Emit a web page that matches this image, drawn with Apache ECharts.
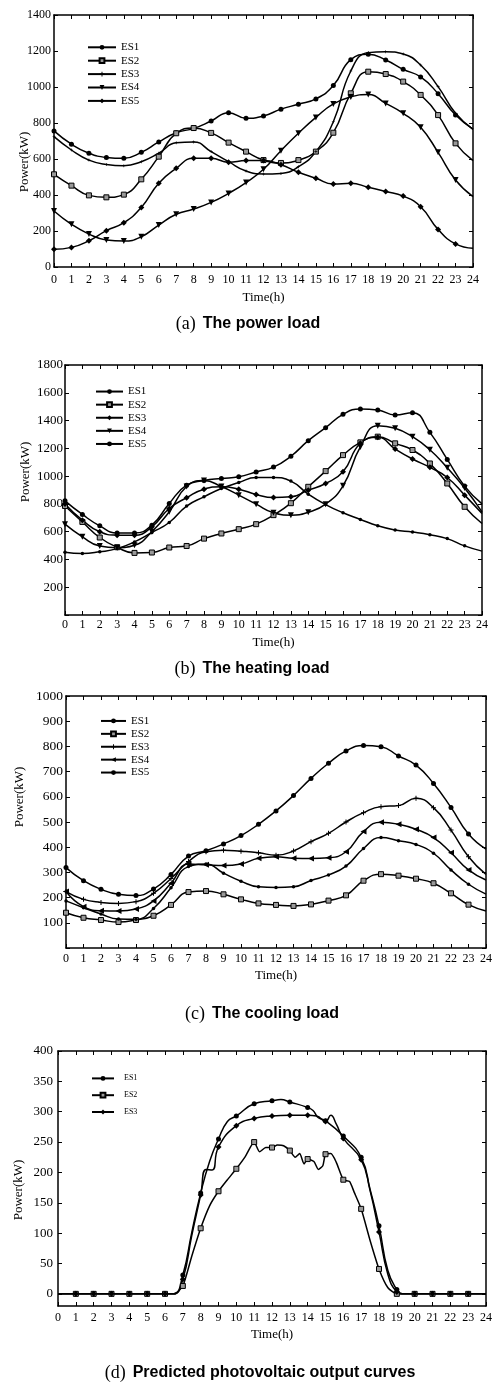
<!DOCTYPE html>
<html>
<head>
<meta charset="utf-8">
<script src="https://cdn.jsdelivr.net/npm/echarts@6/dist/echarts.min.js"></script>
<style>
  html, body { margin: 0; padding: 0; background: #fff; overflow: hidden; }
  .panel { position: absolute; left: 0; width: 500px; }
</style>
</head>
<body>
<div id="chartA" class="panel" style="top:0;height:340px"></div>
<div id="chartB" class="panel" style="top:340px;height:340px"></div>
<div id="chartC" class="panel" style="top:680px;height:350px"></div>
<div id="chartD" class="panel" style="top:1030px;height:353px"></div>
<script>
const hours = [0, 1, 2, 3, 4, 5, 6, 7, 8, 9, 10, 11, 12, 13, 14, 15, 16, 17, 18, 19, 20, 21, 22, 23, 24];
const seriesNames = ['ES1', 'ES2', 'ES3', 'ES4', 'ES5'];

// (a) power load
const powerES1 = [756, 682, 632, 609, 604, 637, 695, 746, 770, 811, 857, 826, 839, 877, 904, 934, 1008, 1152, 1182, 1150, 1098, 1056, 963, 844, 766];
const powerES2 = [515, 452, 398, 387, 402, 487, 613, 743, 772, 745, 691, 641, 594, 578, 594, 641, 746, 965, 1085, 1072, 1030, 956, 844, 687, 591];
const powerES3 = [724, 650, 594, 570, 563, 585, 632, 690, 695, 641, 585, 533, 517, 520, 557, 641, 807, 1089, 1191, 1196, 1183, 1122, 1002, 854, 765];
const powerES4 = [311, 237, 183, 150, 144, 168, 233, 293, 322, 359, 409, 469, 543, 646, 743, 831, 906, 945, 958, 909, 854, 776, 637, 483, 391];
const powerES5 = [98, 109, 146, 202, 246, 331, 465, 548, 604, 604, 582, 591, 591, 568, 526, 493, 461, 465, 443, 419, 394, 335, 209, 128, 104];

// (b) heating load
const heatES1 = [822, 724, 642, 591, 591, 647, 803, 935, 968, 983, 995, 1030, 1065, 1143, 1255, 1349, 1445, 1483, 1476, 1440, 1457, 1315, 1120, 928, 800];
const heatES2 = [785, 670, 558, 488, 447, 450, 486, 497, 550, 587, 618, 654, 719, 805, 923, 1036, 1151, 1243, 1284, 1236, 1188, 1091, 947, 779, 659];
const heatES3 = [800, 683, 599, 575, 574, 635, 767, 844, 906, 923, 906, 868, 846, 851, 899, 947, 1031, 1236, 1279, 1195, 1123, 1063, 990, 863, 731];
const heatES4 = [654, 563, 497, 485, 502, 600, 743, 925, 968, 925, 863, 798, 736, 719, 740, 798, 930, 1210, 1363, 1344, 1284, 1190, 1060, 915, 743];
const heatES5 = [452, 443, 455, 478, 526, 594, 666, 784, 851, 911, 954, 990, 990, 964, 870, 795, 736, 688, 642, 612, 597, 578, 550, 498, 460];

// (c) cooling load
const coolES1 = [319, 267, 233, 213, 208, 234, 292, 365, 386, 413, 446, 491, 544, 605, 673, 733, 782, 804, 799, 762, 726, 653, 558, 452, 392];
const coolES2 = [140, 120, 111, 103, 111, 128, 171, 222, 226, 213, 193, 177, 171, 167, 173, 188, 209, 267, 293, 287, 275, 257, 217, 172, 147];
const coolES3 = [224, 193, 181, 177, 184, 217, 276, 343, 382, 388, 384, 378, 368, 385, 422, 455, 500, 537, 561, 565, 594, 557, 468, 362, 292];
const coolES4 = [224, 164, 148, 147, 155, 187, 257, 333, 330, 327, 333, 356, 362, 356, 355, 358, 382, 462, 499, 491, 471, 438, 378, 310, 270];
const coolES5 = [187, 160, 135, 115, 114, 157, 239, 323, 333, 297, 265, 243, 240, 243, 268, 290, 325, 395, 438, 426, 411, 376, 310, 253, 214];

// (d) predicted PV output, [hour, kW]
const pvES1 = [[0, 0], [1, 0], [2, 0], [3, 0], [4, 0], [5, 0], [6, 0], [6.5, 0], [7, 31], [7.5, 101], [8, 166], [8.5, 218], [9, 255], [9.5, 284], [10, 293], [11, 313], [12, 318], [12.5, 320], [13, 316], [14, 307], [14.3, 302], [14.6, 290], [15, 285], [16, 260], [17, 225], [17.5, 172], [18, 112], [18.5, 38], [19, 7], [19.3, 0], [20, 0], [21, 0], [22, 0], [23, 0], [24, 0]];
const pvES2 = [[0, 0], [1, 0], [2, 0], [3, 0], [4, 0], [5, 0], [6, 0], [6.5, 0], [7, 13], [7.5, 62], [8, 108], [8.5, 145], [9, 169], [9.5, 188], [10, 206], [10.5, 226], [11, 250], [11.3, 234], [11.65, 241], [12, 241], [12.3, 245], [12.65, 244], [13, 236], [13.3, 225], [13.55, 231], [13.8, 214], [14, 222], [14.35, 218], [14.6, 205], [14.85, 211], [15, 230], [15.3, 231], [15.6, 217], [16, 188], [16.35, 185], [16.6, 168], [17, 140], [17.5, 88], [18, 41], [18.5, 10], [19, 0], [20, 0], [21, 0], [22, 0], [23, 0], [24, 0]];
const pvES3 = [[0, 0], [1, 0], [2, 0], [3, 0], [4, 0], [5, 0], [6, 0], [6.5, 0], [7, 24], [7.5, 96], [8, 163], [8.3, 205], [8.65, 204], [9, 242], [10, 277], [11, 289], [12, 293], [13, 294], [14, 294], [14.5, 293], [15, 284], [15.3, 294], [15.6, 280], [16, 256], [17, 221], [17.5, 170], [18, 102], [18.5, 32], [19, 3], [19.3, 0], [20, 0], [21, 0], [22, 0], [23, 0], [24, 0]];

const SERIF = "'Liberation Serif', 'Times New Roman', serif";
const SANS = "'Liberation Sans', Arial, sans-serif";
const AXIS_LINE = { color: '#000', width: 1.5 };
const PLUS = 'path://M4,0H6V4H10V6H6V10H4V6H0V4H4Z';

const toPairs = (vals) => vals.map((v, i) => [hours[i], v]);

// markers only on whole hours (skip the last hour, and hour 0 too if asked)
const markerSize = (size, skipFirst) => (val) => {
  const h = val[0];
  if (!Number.isInteger(h) || h >= 24) return 0;
  if (skipFirst && h === 0) return 0;
  return size;
};

function buildSeries(datas, marks, smooth, skipFirst) {
  return datas.map((d, i) => ({
    name: seriesNames[i],
    type: 'line',
    data: d,
    smooth: Array.isArray(smooth) ? smooth[i] : smooth,
    symbol: marks[i].symbol,
    symbolRotate: marks[i].rotate || 0,
    symbolSize: markerSize(marks[i].size, skipFirst),
    lineStyle: { color: '#000', width: 1.5 },
    itemStyle: { color: marks[i].fill || '#000', borderColor: '#000', borderWidth: marks[i].fill ? 1 : 0 },
    emphasis: { disabled: true },
    animation: false
  }));
}

function buildAxes(cfg) {
  const tick = { show: true, inside: true, length: 4, lineStyle: { color: '#000', width: 1 } };
  const xBase = { type: 'value', min: 0, max: 24, interval: 1, splitLine: { show: false } };
  const xAxis = [
    Object.assign({}, xBase, {
      position: 'bottom',
      axisLine: { show: true, onZero: false, lineStyle: AXIS_LINE },
      axisTick: tick,
      axisLabel: { color: '#000', fontFamily: SERIF, fontSize: cfg.xFont, margin: cfg.xMargin },
      name: 'Time(h)', nameLocation: 'middle', nameGap: cfg.nameGap,
      nameTextStyle: { color: '#000', fontFamily: SERIF, fontSize: 13 }
    }),
    Object.assign({}, xBase, {
      position: 'top',
      axisLine: { show: true, onZero: false, lineStyle: AXIS_LINE },
      axisTick: tick,
      axisLabel: { show: false }
    })
  ];
  const yBase = { type: 'value', min: cfg.yMin, max: cfg.yMax, splitLine: { show: false } };
  if (cfg.yInterval) yBase.interval = cfg.yInterval;
  const yTick = Object.assign({}, tick);
  const yLabel = {
    color: '#000', fontFamily: SERIF, fontSize: cfg.yFont, margin: cfg.yMargin,
    formatter: (v) => (cfg.hideZero && v === 0) ? '' : String(v)
  };
  if (cfg.yCustom) {
    yTick.customValues = cfg.yCustom;
    yLabel.customValues = cfg.yCustom;
  }
  const yAxis = [
    Object.assign({}, yBase, {
      position: 'left',
      axisLine: { show: true, onZero: false, lineStyle: AXIS_LINE },
      axisTick: yTick,
      axisLabel: yLabel
    }),
    Object.assign({}, yBase, {
      position: 'right',
      axisLine: { show: true, onZero: false, lineStyle: AXIS_LINE },
      axisTick: yTick,
      axisLabel: { show: false }
    })
  ];
  return { xAxis, yAxis };
}

function makeChart(id, cfg) {
  const chart = echarts.init(document.getElementById(id), null, { renderer: 'canvas' });
  const axes = buildAxes(cfg);
  const option = {
    animation: false,
    backgroundColor: '#fff',
    grid: { left: cfg.grid[0], top: cfg.grid[1], right: cfg.grid[2], height: cfg.grid[3], containLabel: false },
    xAxis: axes.xAxis,
    yAxis: axes.yAxis,
    legend: {
      orient: 'vertical',
      left: cfg.legend.left,
      top: cfg.legend.top,
      itemWidth: cfg.legend.width,
      itemHeight: 6,
      itemGap: 0,
      selectedMode: false,
      data: cfg.series.map((s) => s.name),
      textStyle: {
        fontFamily: SERIF, fontSize: cfg.legend.font, color: '#000',
        lineHeight: cfg.legend.step, padding: [0, 0, 0, cfg.legend.pad || 0]
      }
    },
    graphic: [
      {
        type: 'text', x: cfg.yName[0], y: cfg.yName[1], rotation: Math.PI / 2,
        style: { text: 'Power(kW)', font: '13px ' + SERIF, fill: '#000', align: 'center', verticalAlign: 'middle' }
      },
      {
        type: 'text', x: cfg.caption[0], y: cfg.caption[1],
        style: {
          text: '{p|' + cfg.captionTag + '}{t|' + cfg.captionText + '}',
          align: 'center', verticalAlign: 'middle',
          rich: {
            p: { fontFamily: SERIF, fontSize: 18, fill: '#000', padding: [0, 7, 0, 0] },
            t: { fontFamily: SANS, fontSize: 16, fontWeight: 'bold', fill: '#000' }
          }
        }
      }
    ],
    series: cfg.series
  };
  chart.setOption(option);
  window.addEventListener('resize', () => chart.resize());
  return chart;
}

// (a)
makeChart('chartA', {
  grid: [54, 15, 27, 252],
  yMin: 0, yMax: 1400, yInterval: 200, yFont: 12, yMargin: 3,
  xFont: 12, xMargin: 7, nameGap: 20,
  legend: { left: 82, top: 35.6, width: 28, font: 11, step: 13.4 },
  yName: [25, 162],
  caption: [248, 324], captionTag: '(a)', captionText: 'The power load',
  series: buildSeries(
    [powerES1, powerES2, powerES3, powerES4, powerES5].map(toPairs),
    [
      { symbol: 'circle', size: 5 },
      { symbol: 'rect', size: 5, fill: '#999' },
      { symbol: PLUS, size: 3 },
      { symbol: 'triangle', size: 6, rotate: 180 },
      { symbol: 'diamond', size: 6 }
    ], true, false)
});

// (b)
makeChart('chartB', {
  grid: [65, 25, 18, 250],
  yMin: 0, yMax: 1800, yInterval: 200, yFont: 13, yMargin: 2, hideZero: true,
  xFont: 12, xMargin: 4, nameGap: 16,
  legend: { left: 90, top: 40, width: 27, font: 11, step: 13.1 },
  yName: [26, 132],
  caption: [252, 329], captionTag: '(b)', captionText: 'The heating load',
  series: buildSeries(
    [heatES1, heatES2, heatES3, heatES4, heatES5].map(toPairs),
    [
      { symbol: 'circle', size: 5 },
      { symbol: 'rect', size: 5, fill: '#999' },
      { symbol: 'diamond', size: 6 },
      { symbol: 'triangle', size: 6, rotate: 180 },
      { symbol: 'circle', size: 3.5 }
    ], true, false)
});

// (c)
makeChart('chartC', {
  grid: [66, 16, 14, 252],
  yMin: 0, yMax: 1000, yInterval: 100, yFont: 13.5, yMargin: 3, hideZero: true,
  xFont: 12, xMargin: 4.5, nameGap: 18,
  legend: { left: 95, top: 29.5, width: 25, font: 11, step: 12.9 },
  yName: [19.5, 117],
  caption: [262, 334], captionTag: '(c)', captionText: 'The cooling load',
  series: buildSeries(
    [coolES1, coolES2, coolES3, coolES4, coolES5].map(toPairs),
    [
      { symbol: 'circle', size: 5 },
      { symbol: 'rect', size: 5, fill: '#999' },
      { symbol: PLUS, size: 5 },
      { symbol: 'triangle', size: 6, rotate: 90 },
      { symbol: 'circle', size: 3.5 }
    ], true, false)
});

// (d)
makeChart('chartD', {
  grid: [58, 21, 14, 255],
  yMin: -20, yMax: 400, yFont: 13, yMargin: 5,
  yCustom: [0, 50, 100, 150, 200, 250, 300, 350, 400],
  xFont: 12, xMargin: 5.5, nameGap: 18.5,
  legend: { left: 86, top: 35, width: 22, font: 8, step: 16.8, pad: 5 },
  yName: [19, 160],
  caption: [260, 343], captionTag: '(d)', captionText: 'Predicted photovoltaic output curves',
  series: buildSeries(
    [pvES1, pvES2, pvES3],
    [
      { symbol: 'circle', size: 5 },
      { symbol: 'rect', size: 5, fill: '#999' },
      { symbol: 'diamond', size: 6 }
    ], [0.5, 0.2, 0.5], true)
});
</script>
</body>
</html>
